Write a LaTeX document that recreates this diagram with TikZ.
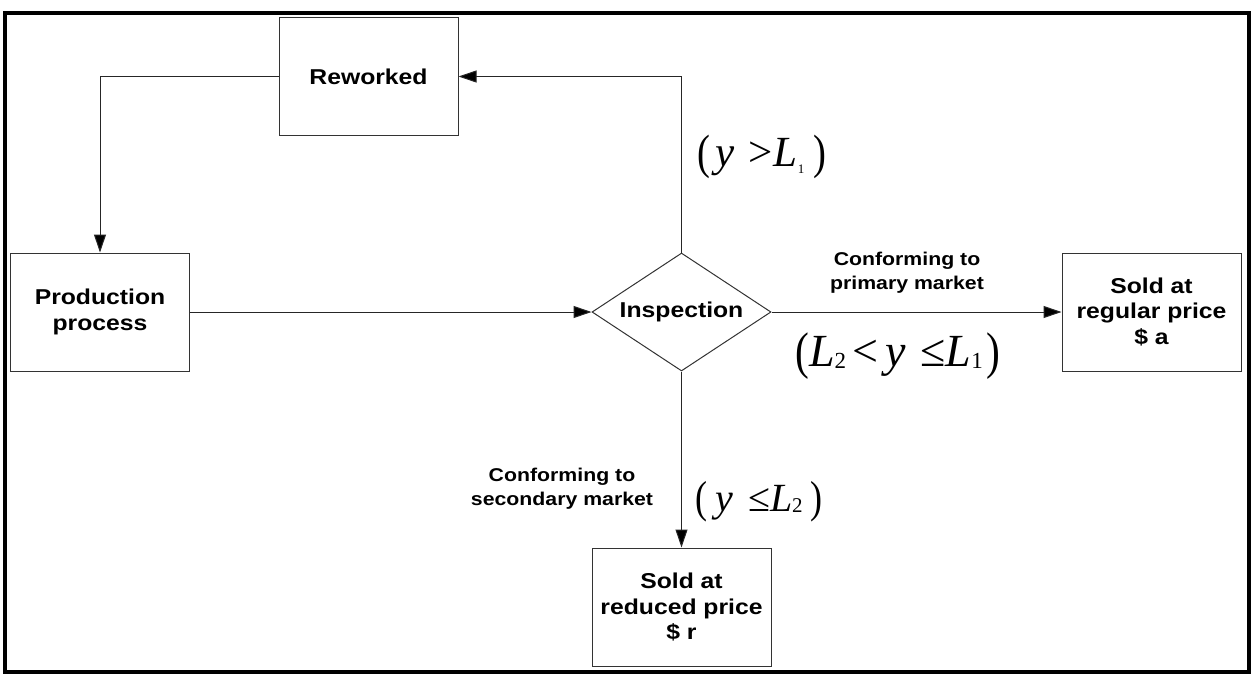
\documentclass[tikz,border=0pt]{standalone}
\usepackage{fontspec}
\setmainfont{Liberation Sans}
\newfontfamily\lab{Liberation Sans}[FakeStretch=1.15]
\newfontfamily\tnr{Liberation Serif}
\usetikzlibrary{shapes.geometric,arrows.meta}
\newcommand{\msub}[3]{\raisebox{#1}{\fontsize{#2}{#2}\selectfont #3}}
\newcommand{\tp}[1]{\raisebox{-0.04em}{\scalebox{0.9}[1.12]{#1}}}
\begin{document}
\begin{tikzpicture}[x=1pt,y=-1pt,
  box/.style={draw=black!80, line width=1pt, minimum width=179pt, minimum height=118pt, inner sep=0pt, align=center, font=\lab\bfseries\fontsize{21.5}{25.5}\selectfont},
  lbl/.style={align=center, inner sep=0pt, font=\lab\bfseries\fontsize{18.5}{24}\selectfont},
  conn/.style={draw=black!85, line width=1pt, -{Triangle[length=18pt,width=12pt,fill=black]}},
  mth/.style={inner sep=0pt, font=\tnr}]
\useasboundingbox (0,0) rectangle (1257,677);
\draw[line width=4pt] (5,13.5) rectangle (1249,672);

\node[box] (rew) at (368.5,76.5) {Reworked};
\node[box] (prod) at (100,312) {Production\\process};
\node[box, diamond, aspect=1.517] (insp) at (681.5,312) {Inspection};
\node[box] (reg) at (1151.5,312) {Sold at\\regular price\\\$ a};
\node[box] (red) at (681.5,607) {Sold at\\reduced price\\\$ r};

\draw[conn] (insp.north) |- (rew.east);
\draw[conn] (rew.west) -| (prod.north);
\draw[conn] (prod.east) -- (insp.west);
\draw[conn] (insp.east) -- (reg.west);
\draw[conn] (insp.south) -- (red.north);

\node[lbl] (prim) at (907,273) {Conforming to\\primary market};
\node[lbl] (sec) at (562,489) {Conforming to\\secondary market};

\node[mth] (m1) at (762,157) {\fontsize{43}{43}\selectfont \tp{(}\hspace{5pt}\textit{y}\hspace{14pt}>\hspace{1pt}\textit{L}\msub{-7pt}{13}{1}\hspace{9pt}\tp{)}};
\node[mth] (m2) at (898,356) {\fontsize{46}{46}\selectfont \tp{(}\textit{L}\msub{-2pt}{23}{2}\hspace{6pt}<\hspace{7pt}\textit{y}\hspace{15pt}≤\textit{L}\msub{-2pt}{23}{1}\hspace{4pt}\tp{)}};
\node[mth] (m3) at (759,502) {\fontsize{40}{40}\selectfont \tp{(}\hspace{8pt}\textit{y}\hspace{15pt}≤\textit{L}\msub{-1pt}{21}{2}\hspace{8pt}\tp{)}};
\end{tikzpicture}
\end{document}
